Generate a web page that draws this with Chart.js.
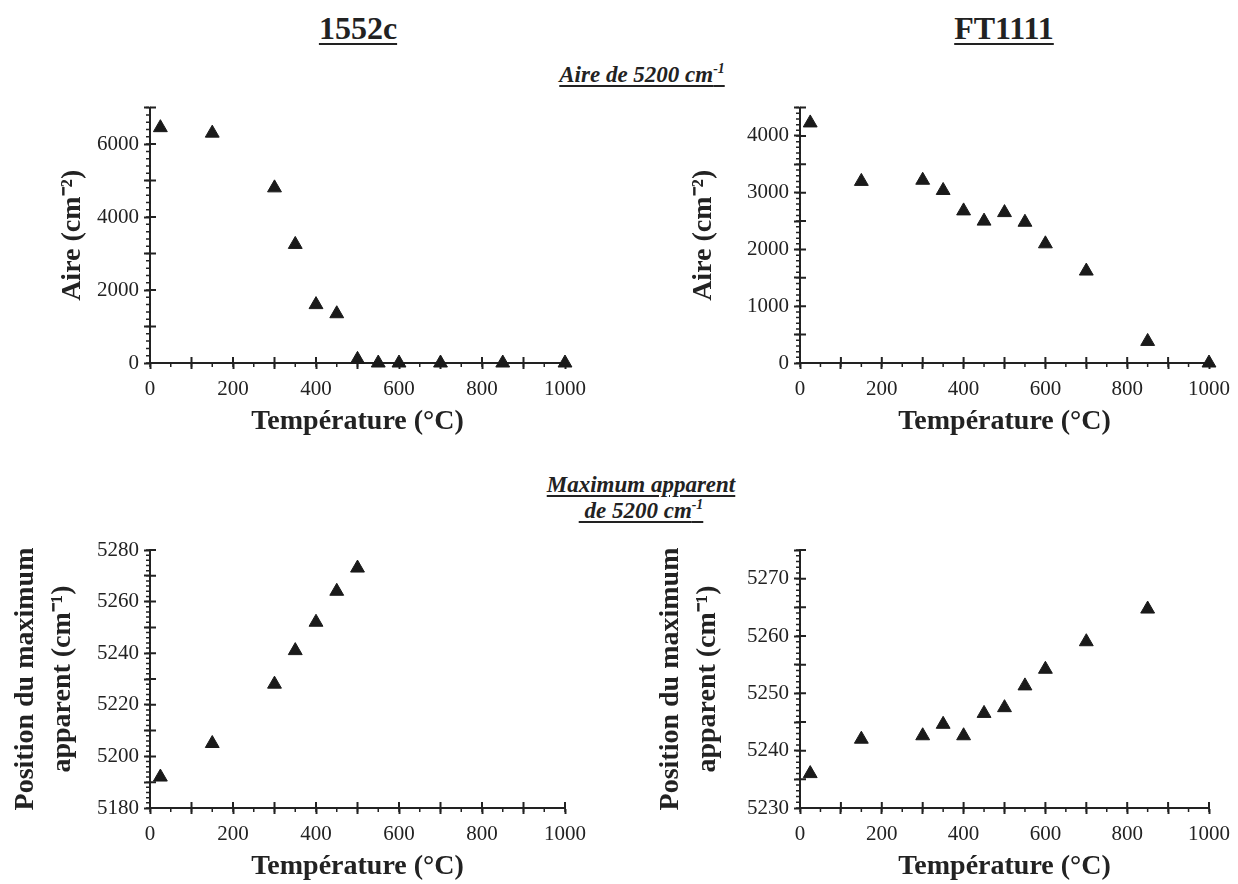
<!DOCTYPE html>
<html>
<head>
<meta charset="utf-8">
<script src="https://cdn.jsdelivr.net/npm/chart.js@4/dist/chart.umd.min.js"></script>
<style>
  body { margin: 0; background: #fff; }
  #page { position: relative; width: 1238px; height: 884px; overflow: hidden; background: #fff; color: #222; }
  #page canvas { position: absolute; }
  .head { position: absolute; transform: translateX(-50%); white-space: nowrap;
          font-family: 'Liberation Serif', 'Times New Roman', serif; font-weight: bold;
          text-decoration: underline; text-decoration-thickness: 2px; text-underline-offset: 4px; }
  .big { font-size: 32px; line-height: 32px; }
  .sub { font-size: 23px; line-height: 26px; font-style: italic; text-align: center; text-underline-offset: 3px; }
  .sub sup { font-size: 0.6em; line-height: 0; }
</style>
</head>
<body>
<div id="page">
  <div class="head big" style="left:358px; top:12px;">1552c</div>
  <div class="head big" style="left:1004px; top:12px;">FT1111</div>
  <div class="head sub" style="left:642px; top:62px;">Aire de 5200 cm<sup>-1</sup></div>
  <div class="head sub" style="left:641px; top:472px;">Maximum apparent<br>&nbsp;de 5200 cm<sup>-1</sup></div>

  <canvas id="c1" width="610" height="360" style="left:0; top:90px;"></canvas>
  <canvas id="c2" width="618" height="360" style="left:620px; top:90px;"></canvas>
  <canvas id="c3" width="610" height="354" style="left:0; top:530px;"></canvas>
  <canvas id="c4" width="618" height="354" style="left:620px; top:530px;"></canvas>
</div>

<script>
// temperatures (°C)
const temps1552 = [25, 150, 300, 350, 400, 450, 500, 550, 600, 700, 850, 1000];
const tempsFT = [25, 150, 300, 350, 400, 450, 500, 550, 600, 700, 850, 1000];
const tempsMax1552 = [25, 150, 300, 350, 400, 450, 500];
const tempsMaxFT = [25, 150, 300, 350, 400, 450, 500, 550, 600, 700, 850];

// aire de la bande 5200 cm-1
const aire1552 = [6450, 6300, 4800, 3250, 1600, 1350, 100, 0, 0, 0, 0, 0];
const aireFT = [4230, 3200, 3220, 3040, 2680, 2500, 2650, 2480, 2100, 1620, 380, 0];

// position du maximum apparent
const max1552 = [5192, 5205, 5228, 5241, 5252, 5264, 5273];
const maxFT = [5236, 5242, 5242.6, 5244.6, 5242.6, 5246.5, 5247.5, 5251.3, 5254.2, 5259, 5264.7];

// tick labels shown
const xTickLabels = [0, 200, 400, 600, 800, 1000];
const aire1552Ticks = [0, 2000, 4000, 6000];
const aireFTTicks = [0, 1000, 2000, 3000, 4000];
const max1552Ticks = [5180, 5200, 5220, 5240, 5260, 5280];
const maxFTTicks = [5230, 5240, 5250, 5260, 5270];

const ink = '#222';
const serif = "'Liberation Serif', 'Times New Roman', serif";

// small ticks + inner half of the big ticks
const minorTicks = {
    id: 'minorTicks',
    beforeDatasetsDraw(chart, args, opts) {
        const { ctx } = chart;
        const x = chart.scales.x;
        const y = chart.scales.y;
        const steps = (min, max, step) => {
            const out = [];
            const n = Math.round((max - min) / step);
            for (let i = 0; i <= n; i++) out.push(min + i * step);
            return out;
        };
        ctx.save();
        ctx.strokeStyle = ink;
        ctx.lineWidth = 1.5;
        ctx.beginPath();
        steps(x.min, x.max, opts.xMinor).forEach(v => {
            const px = x.getPixelForValue(v);
            ctx.moveTo(px, y.bottom);
            ctx.lineTo(px, y.bottom + 4);
        });
        steps(y.min, y.max, opts.yMinor).forEach(v => {
            const py = y.getPixelForValue(v);
            ctx.moveTo(x.left - 4, py);
            ctx.lineTo(x.left + 1, py);
        });
        ctx.stroke();
        ctx.lineWidth = 2;
        ctx.beginPath();
        steps(x.min, x.max, opts.xMajor).forEach(v => {
            const px = x.getPixelForValue(v);
            ctx.moveTo(px, y.bottom);
            ctx.lineTo(px, y.bottom - 6);
        });
        steps(y.min, y.max, opts.yMajor).forEach(v => {
            const py = y.getPixelForValue(v);
            ctx.moveTo(x.left, py);
            ctx.lineTo(x.left + 6, py);
        });
        ctx.stroke();
        ctx.restore();
    }
};

function makeChart(id, xs, ys, s) {
    const ctx = document.getElementById(id).getContext('2d');
    return new Chart(ctx, {
        type: 'scatter',
        data: {
            datasets: [{
                data: xs.map((t, i) => ({ x: t, y: ys[i] })),
                pointStyle: 'triangle',
                pointRadius: 8,
                pointHoverRadius: 8,
                backgroundColor: '#1a1a1a',
                borderColor: '#1a1a1a',
                borderWidth: 1,
                clip: false
            }]
        },
        options: {
            responsive: false,
            animation: false,
            events: [],
            layout: { padding: s.padding },
            plugins: {
                legend: { display: false },
                tooltip: { enabled: false },
                minorTicks: { xMinor: 50, xMajor: 100, yMinor: s.yMinor, yMajor: s.yStep }
            },
            scales: {
                x: {
                    type: 'linear',
                    min: 0,
                    max: 1000,
                    afterFit(scale) { scale.height = s.xHeight; },
                    border: { display: true, color: ink, width: 2 },
                    grid: { display: true, drawOnChartArea: false, tickLength: 6, tickColor: ink, tickWidth: 2, color: ink },
                    ticks: {
                        stepSize: 100,
                        padding: 8,
                        maxRotation: 0,
                        autoSkip: false,
                        color: ink,
                        font: { family: serif, size: 21 },
                        callback: v => xTickLabels.includes(v) ? String(v) : ''
                    },
                    title: {
                        display: true,
                        text: 'Température (°C)',
                        color: ink,
                        font: { family: serif, size: 28, weight: 'bold' },
                        padding: { top: 0, bottom: s.xTitlePad }
                    }
                },
                y: {
                    type: 'linear',
                    min: s.yMin,
                    max: s.yMax,
                    afterFit(scale) { scale.width = s.yWidth; },
                    border: { display: true, color: ink, width: 2 },
                    grid: { display: true, drawOnChartArea: false, tickLength: 6, tickColor: ink, tickWidth: 2, color: ink },
                    ticks: {
                        stepSize: s.yStep,
                        padding: 5,
                        autoSkip: false,
                        color: ink,
                        font: { family: serif, size: 21 },
                        callback: v => s.yLabels.includes(v) ? String(v) : ''
                    },
                    title: {
                        display: true,
                        text: s.yTitle,
                        color: ink,
                        font: { family: serif, size: 28, weight: 'bold', lineHeight: 1.3 },
                        padding: { top: s.yTitlePad, bottom: 0 }
                    }
                }
            }
        },
        plugins: [minorTicks]
    });
}

makeChart('c1', temps1552, aire1552, {
    yMin: 0, yMax: 7000, yStep: 1000, yMinor: 200, yLabels: aire1552Ticks,
    yTitle: 'Aire (cm⁻²)', yTitlePad: 55, yWidth: 150, xHeight: 87, xTitlePad: 11,
    padding: { top: 16, right: 45, left: 0, bottom: 0 }
});
makeChart('c2', tempsFT, aireFT, {
    yMin: 0, yMax: 4500, yStep: 500, yMinor: 100, yLabels: aireFTTicks,
    yTitle: 'Aire (cm⁻²)', yTitlePad: 66, yWidth: 180, xHeight: 87, xTitlePad: 11,
    padding: { top: 17, right: 21, left: 0, bottom: 0 }
});
makeChart('c3', tempsMax1552, max1552, {
    yMin: 5180, yMax: 5280, yStep: 10, yMinor: 2, yLabels: max1552Ticks,
    yTitle: ['Position du maximum', 'apparent (cm⁻¹)'], yTitlePad: 8, yWidth: 150, xHeight: 76, xTitlePad: 0,
    padding: { top: 20, right: 45, left: 0, bottom: 0 }
});
makeChart('c4', tempsMaxFT, maxFT, {
    yMin: 5230, yMax: 5275, yStep: 5, yMinor: 1, yLabels: maxFTTicks,
    yTitle: ['Position du maximum', 'apparent (cm⁻¹)'], yTitlePad: 33, yWidth: 180, xHeight: 76, xTitlePad: 0,
    padding: { top: 20, right: 21, left: 0, bottom: 0 }
});
</script>
</body>
</html>
